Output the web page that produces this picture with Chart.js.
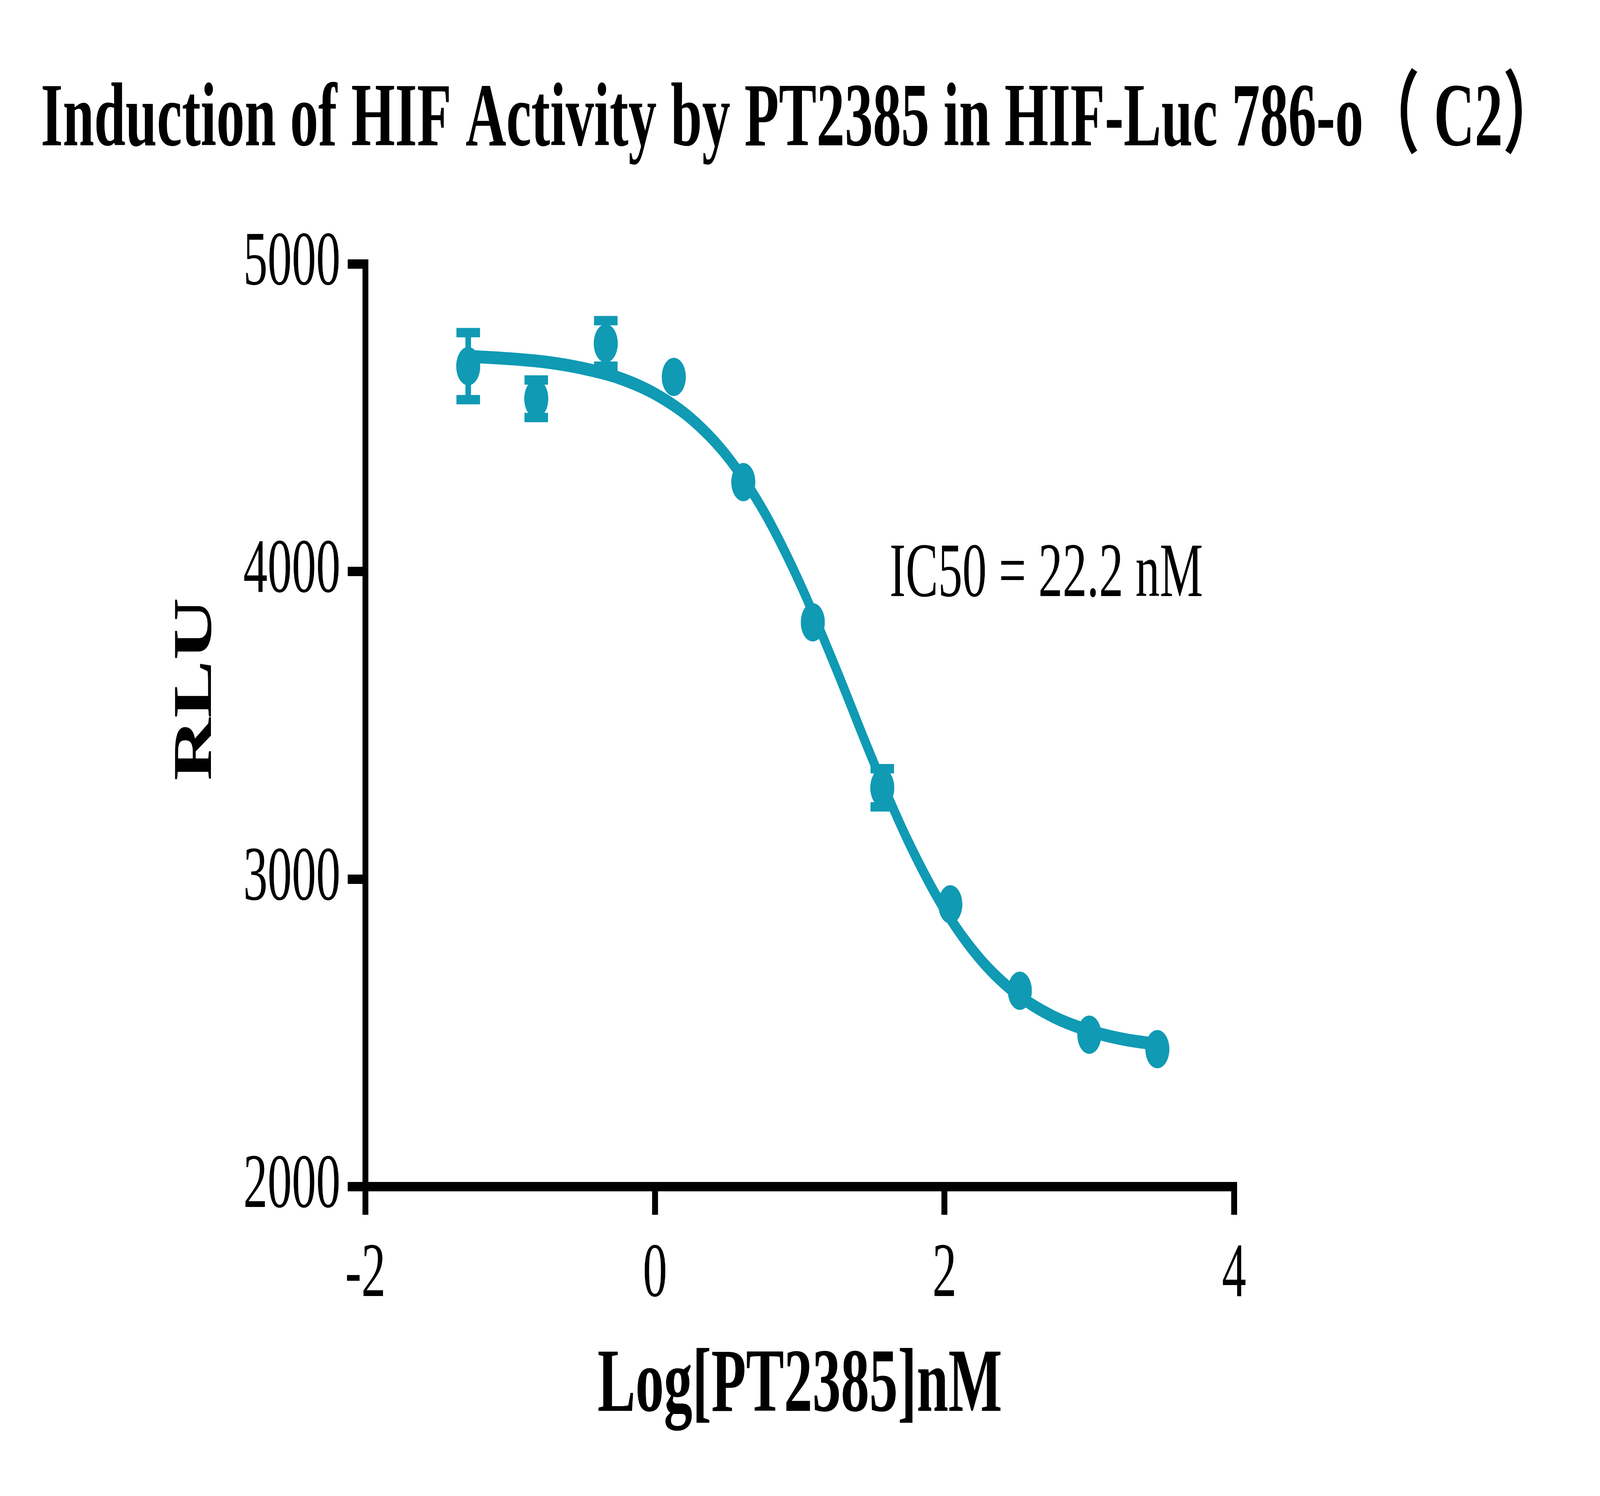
<!DOCTYPE html>
<html>
<head>
<meta charset="utf-8">
<style>
  html, body { margin: 0; padding: 0; background: #ffffff; overflow: hidden; }
  #wrap { width: 6524px; height: 3830px; position: absolute; left: 0; top: 0; transform-origin: 0 0; }
</style>
<script src="https://cdn.jsdelivr.net/npm/chart.js@4"></script>
</head>
<body>
<div id="wrap"><canvas id="c" width="6524" height="3830"></canvas></div>
<script>
// ---- data ----
const chartTitle = "Induction of HIF Activity by PT2385 in HIF-Luc 786-o（ C2）";
const xAxisTitle = "Log[PT2385]nM";
const yAxisTitle = "RLU";
const annotationText = "IC50 = 22.2 nM";
const annotationX = 1.62;
const annotationY = 3920;
const yTitleCenterValue = 3618;   // RLU level at which the y title is centred

// measured points (log nM, RLU) with error bar half-lengths
const logConc = [-1.29, -0.82, -0.34, 0.13, 0.61, 1.09, 1.57, 2.04, 2.52, 3.00, 3.47];
const rlu     = [4668, 4562, 4742, 4633, 4291, 3835, 3297, 2918, 2637, 2494, 2447];
const rluErr  = [109, 61, 74, 0, 0, 0, 62, 0, 0, 0, 0];

// fitted curve
const curveX = [-1.29, -1.0, -0.75, -0.5, -0.25, 0, 0.25, 0.5, 0.75, 1.0, 1.25, 1.5, 1.75, 2.0, 2.25, 2.5, 2.75, 3.0, 3.25, 3.47];
const curveY = [4700, 4692, 4681, 4661, 4630, 4578, 4497, 4374, 4197, 3963, 3685, 3392, 3122, 2901, 2738, 2626, 2553, 2507, 2478, 2463];

// axis ranges / ticks
const xMin = -2, xMax = 4, xStep = 2;
const yMin = 2000, yMax = 5000, yStep = 1000;

const teal = '#109ab4';
const serif = '"Liberation Serif", "Times New Roman", "Noto Sans CJK SC", serif';

// fit the 6524x3830 drawing to the actual window
(function () {
  const sx = window.innerWidth / 6524;
  const sy = window.innerHeight / 3830;
  document.getElementById('wrap').style.transform = 'scale(' + sx + ',' + sy + ')';
})();

const pointData = logConc.map((x, i) => ({ x: x, y: rlu[i] }));
const curveData = curveX.map((x, i) => ({ x: x, y: curveY[i] }));

const errorBarPlugin = {
  id: 'errorBars',
  beforeDatasetsDraw(chart) {
    const { ctx, scales } = chart;
    const xs = scales.x, ys = scales.y;
    ctx.save();
    ctx.fillStyle = teal;
    const capHalf = 48, capThick = 24, stemHalf = 11.5;
    logConc.forEach((lx, i) => {
      const e = rluErr[i];
      if (!e) return;
      const px = xs.getPixelForValue(lx);
      const top = ys.getPixelForValue(rlu[i] + e);
      const bot = ys.getPixelForValue(rlu[i] - e);
      ctx.fillRect(px - stemHalf, top, stemHalf * 2, bot - top);
      ctx.fillRect(px - capHalf, top - capThick / 2, capHalf * 2, capThick);
      ctx.fillRect(px - capHalf, bot - capThick / 2, capHalf * 2, capThick);
    });
    ctx.restore();
  }
};

const textPlugin = {
  id: 'extraText',
  afterDraw(chart) {
    const { ctx, scales } = chart;
    ctx.save();
    // IC50 annotation
    ctx.font = '198px ' + serif;
    ctx.fillStyle = '#000';
    ctx.textAlign = 'left';
    ctx.textBaseline = 'alphabetic';
    ctx.fillText(annotationText, scales.x.getPixelForValue(annotationX), scales.y.getPixelForValue(annotationY));
    // y axis title (rotated)
    ctx.translate(803, scales.y.getPixelForValue(yTitleCenterValue));
    ctx.rotate(-Math.PI / 2);
    ctx.font = 'bold 222px ' + serif;
    ctx.textAlign = 'center';
    ctx.textBaseline = 'middle';
    ctx.fillText(yAxisTitle, 0, 0);
    ctx.restore();
  }
};

new Chart(document.getElementById('c'), {
  data: {
    datasets: [
      {
        type: 'scatter',
        label: 'data',
        data: pointData,
        yAxisID: 'y',
        pointRadius: 49,
        pointHoverRadius: 49,
        pointBackgroundColor: teal,
        pointBorderWidth: 0,
        showLine: false
      },
      {
        type: 'line',
        label: 'fit',
        data: curveData,
        yAxisID: 'y',
        borderColor: teal,
        borderWidth: 33,
        pointRadius: 0,
        fill: false,
        cubicInterpolationMode: 'monotone'
      }
    ]
  },
  options: {
    responsive: false,
    devicePixelRatio: 1,
    animation: false,
    layout: { padding: { left: 0, right: 0, top: 0, bottom: 0 } },
    plugins: {
      legend: { display: false },
      tooltip: { enabled: false },
      title: {
        display: true,
        text: chartTitle,
        color: '#000',
        font: { family: serif, size: 230, weight: 'bold' },
        padding: { top: 175, bottom: 225 }
      }
    },
    scales: {
      x: {
        type: 'linear',
        position: 'bottom',
        min: xMin, max: xMax,
        afterFit(s) { s.height = 792; },
        ticks: {
          stepSize: xStep,
          color: '#000',
          padding: 37,
          font: { family: serif, size: 198 },
          callback: v => String(v)
        },
        grid: { drawOnChartArea: false, drawTicks: true, tickLength: 72, lineWidth: 24, color: '#000' },
        border: { display: true, width: 24, color: '#000' },
        title: {
          display: true,
          text: xAxisTitle,
          color: '#000',
          font: { family: serif, size: 232, weight: 'bold' },
          padding: { top: 0, bottom: 139 }
        }
      },
      y: {
        type: 'linear',
        position: 'left',
        min: yMin, max: yMax,
        afterFit(s) { s.width = 1490; },
        ticks: {
          stepSize: yStep,
          color: '#000',
          padding: 30,
          font: { family: serif, size: 198 },
          callback: v => String(v)
        },
        grid: { drawOnChartArea: false, drawTicks: true, tickLength: 72, lineWidth: 24, color: '#000' },
        border: { display: true, width: 24, color: '#000' },
        title: { display: false }
      },
      yRight: {
        type: 'linear',
        position: 'right',
        min: yMin, max: yMax,
        afterFit(s) { s.width = 1492; },
        ticks: { display: false },
        grid: { display: false },
        border: { display: false }
      }
    }
  },
  plugins: [errorBarPlugin, textPlugin]
});
</script>
</body>
</html>
